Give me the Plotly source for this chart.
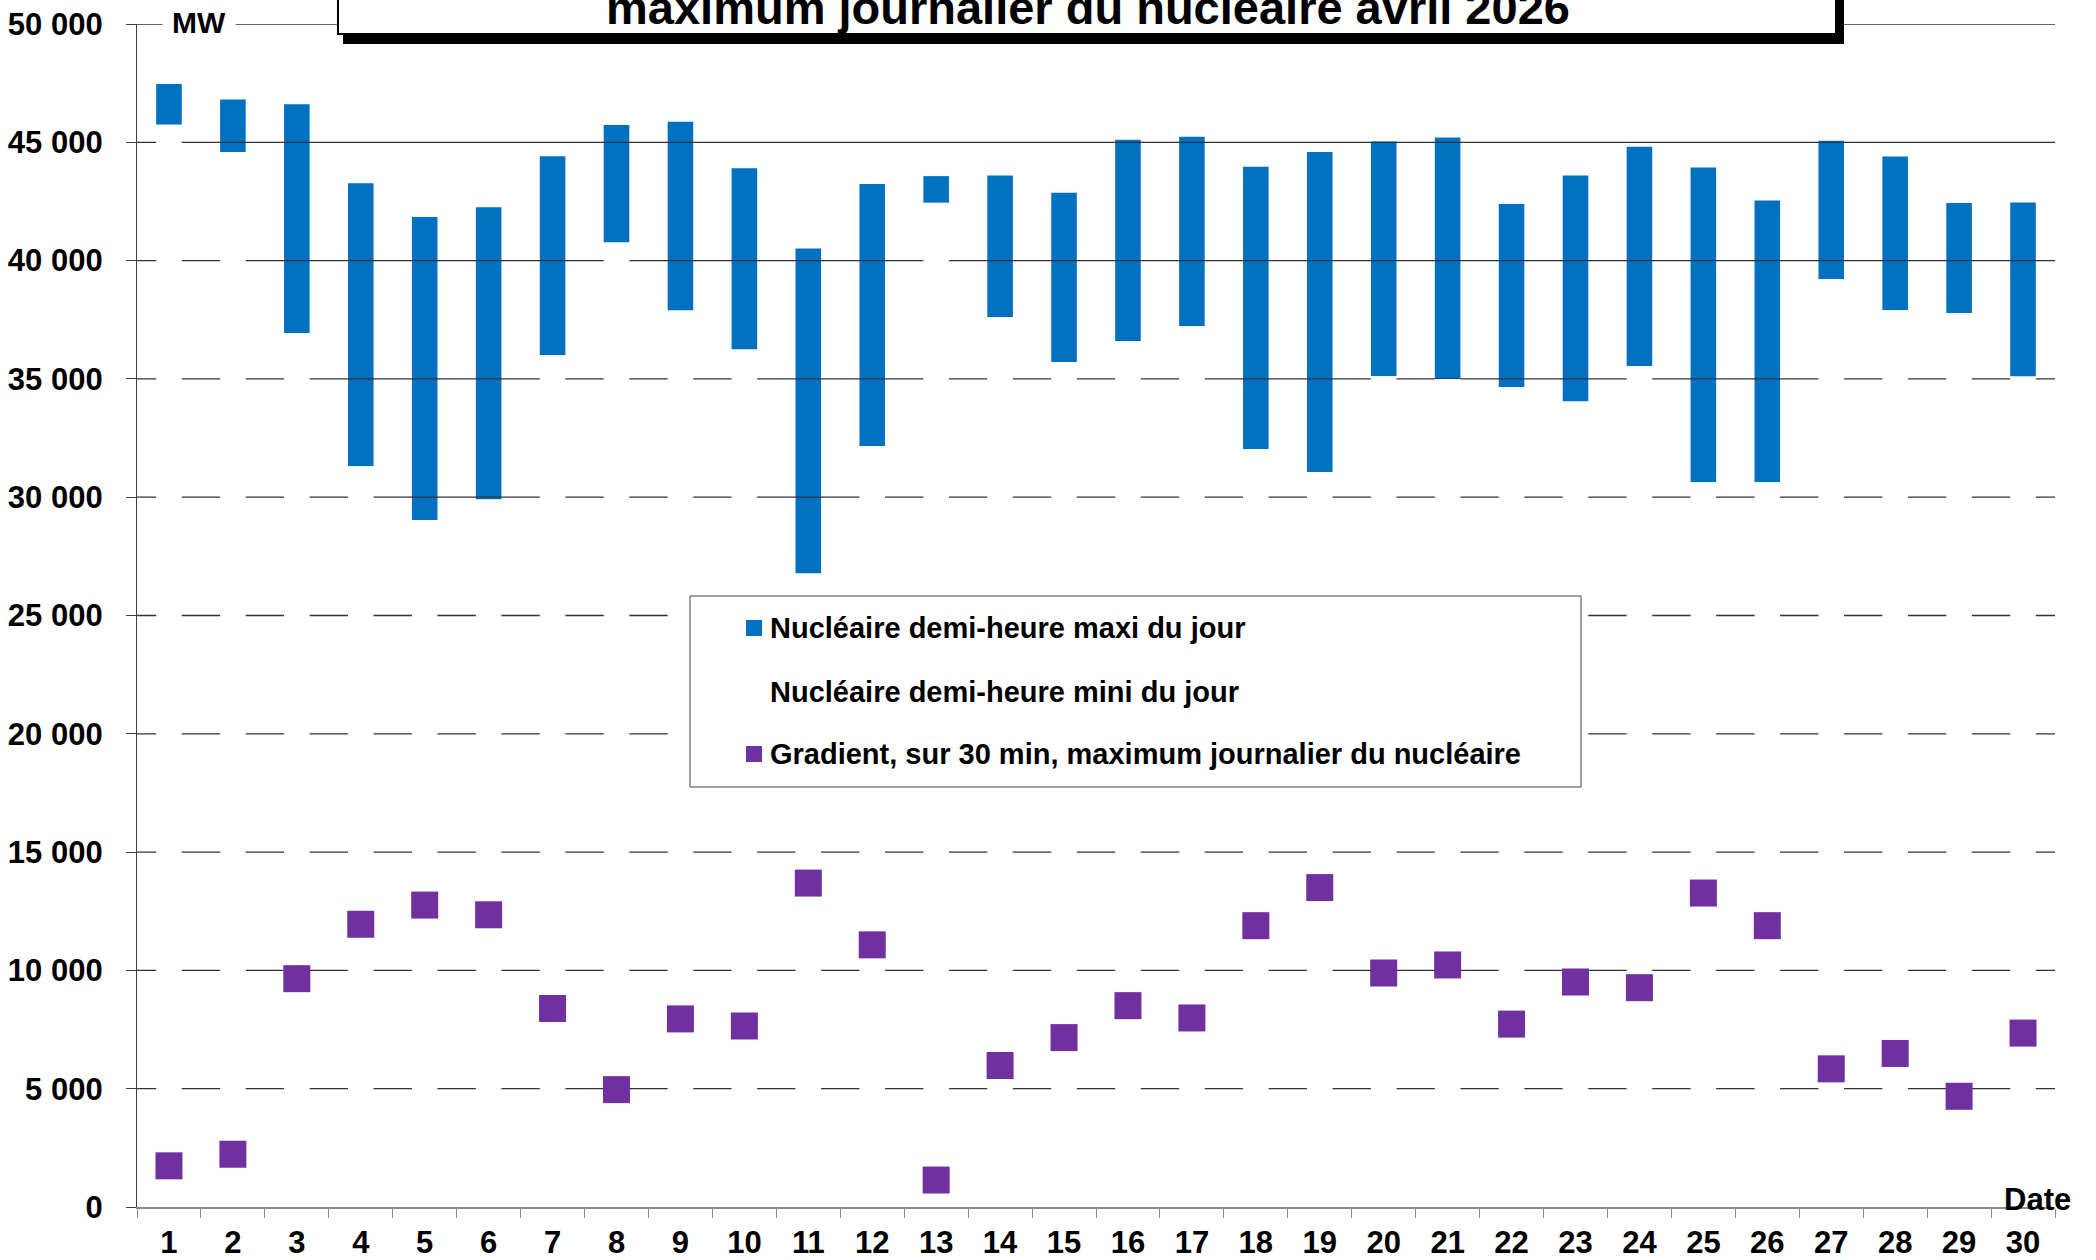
import plotly.graph_objects as go

# Daily nuclear output, April 2026 (MW)
days = list(range(1, 31))
day_labels = [str(d) for d in days]
nuc_max = [47460, 46810, 46610, 43270, 41840, 42260, 44410, 45730, 45870, 43900,
           40510, 43240, 43570, 43600, 42870, 45110, 45230, 43970, 44590, 45030,
           45200, 42390, 43600, 44810, 43930, 42540, 45070, 44400, 42430, 42460]
nuc_min = [45740, 44590, 36940, 31310, 29040, 29900, 36000, 40770, 37890, 36240,
           26770, 32160, 42440, 37610, 35710, 36590, 37230, 32040, 31070, 35110,
           35000, 34660, 34040, 35540, 30630, 30630, 39210, 37900, 37770, 35100]
gradient = [1740, 2230, 9650, 11950, 12760, 12350, 8390, 4960, 7950, 7650,
            13690, 11080, 1140, 5980, 7160, 8510, 7990, 11890, 13500, 9890,
            10230, 7730, 9510, 9270, 13270, 11890, 5840, 6490, 4680, 7350]
y_ticks = list(range(0, 50001, 5000))
grid_levels = y_ticks[1:]

name_max = "Nucléaire demi-heure maxi du jour"
name_min = "Nucléaire demi-heure mini du jour"
name_grad = "Gradient, sur 30 min, maximum journalier du nucléaire"
title_text = "maximum journalier du nucléaire avril 2026"

BLUE = "#0070C0"
PURPLE = "#7030A0"
FONT = "Liberation Sans, Arial, sans-serif"

W, H = 2096, 1260
L, R, T, B = 137, 41, 24, 53
PW, PH = W - L - R, H - T - B


def px(x):
    return (x - L) / PW


def py(y):
    return (H - B - y) / PH


fig = go.Figure()

# range bars (min -> max)
fig.add_trace(go.Bar(
    x=days, y=[mx - mn for mx, mn in zip(nuc_max, nuc_min)], base=nuc_min,
    width=0.4, marker=dict(color=BLUE, line=dict(width=0)),
    name=name_max, showlegend=False,
    customdata=nuc_max, hovertemplate="%{customdata}<extra></extra>",
))

# horizontal grid drawn over the range bars
gx, gy = [], []
for lv in grid_levels:
    gx += [0.5, 30.5, None]
    gy += [lv, lv, None]
fig.add_trace(go.Scatter(
    x=gx, y=gy, mode="lines", line=dict(color="#333333", width=1.3),
    hoverinfo="skip", showlegend=False,
))

# white base columns (0 -> min) on the overlay axes
fig.add_trace(go.Bar(
    x=days, y=nuc_min, width=0.4, xaxis="x2", yaxis="y2",
    marker=dict(color="white", line=dict(width=0)),
    name=name_min, showlegend=False,
))

# 30-min gradient markers
fig.add_trace(go.Scatter(
    x=days, y=gradient, mode="markers", xaxis="x2", yaxis="y2",
    marker=dict(symbol="square", size=27, color=PURPLE, line=dict(width=0)),
    name=name_grad, showlegend=False,
))

tick_font = dict(family=FONT, size=31, color="black", weight="bold")

fig.update_layout(
    width=W, height=H,
    margin=dict(l=L, r=R, t=T, b=B, pad=0, autoexpand=False),
    paper_bgcolor="white", plot_bgcolor="white",
    separators=", ",
    showlegend=False,
    barmode="overlay",
    xaxis=dict(
        range=[0.5, 30.5], tickvals=days, ticktext=day_labels, ticks="",
        showgrid=False, zeroline=False, showline=True, automargin=False,
        linecolor="#8c8c8c", linewidth=1.5,
        tickfont=tick_font, ticklabelstandoff=7,
        minor=dict(tickmode="array", tickvals=[d + 0.5 for d in [0] + days],
                   ticks="outside", ticklen=9, tickcolor="#8c8c8c",
                   tickwidth=1.2, showgrid=False),
    ),
    yaxis=dict(
        range=[0, 50000], tickvals=y_ticks, tickformat=",d",
        ticks="outside", ticklen=10, tickcolor="#404040", tickwidth=1.2,
        showgrid=False, zeroline=False, showline=True, automargin=False,
        linecolor="#404040", linewidth=1.2,
        tickfont=tick_font, ticklabelstandoff=17,
    ),
    xaxis2=dict(overlaying="x", matches="x", visible=False),
    yaxis2=dict(overlaying="y", matches="y", visible=False),
)

shapes = []
# title frame with drop shadow
shapes.append(dict(type="rect", xref="paper", yref="paper",
                   x0=px(343), x1=px(1844), y0=py(44), y1=py(-60),
                   fillcolor="black", line=dict(width=0)))
shapes.append(dict(type="rect", xref="paper", yref="paper",
                   x0=px(338), x1=px(1836), y0=py(34), y1=py(-70),
                   fillcolor="white", line=dict(color="black", width=2)))
# legend frame and swatches
shapes.append(dict(type="rect", xref="paper", yref="paper",
                   x0=px(690), x1=px(1581), y0=py(787), y1=py(596),
                   fillcolor="white", line=dict(color="#404040", width=1)))
shapes.append(dict(type="rect", xref="paper", yref="paper",
                   x0=px(746), x1=px(762), y0=py(636), y1=py(620),
                   fillcolor=BLUE, line=dict(width=0)))
shapes.append(dict(type="rect", xref="paper", yref="paper",
                   x0=px(746), x1=px(762), y0=py(762), y1=py(746),
                   fillcolor=PURPLE, line=dict(width=0)))
fig.update_layout(shapes=shapes)

leg_font = dict(family=FONT, size=29, color="black", weight="bold")
annotations = [
    dict(text=title_text, xref="paper", yref="paper", x=px(1088), y=py(8),
         xanchor="center", yanchor="middle", showarrow=False,
         font=dict(family=FONT, size=47, color="black", weight="bold")),
    dict(text="MW", xref="paper", yref="paper", x=px(199), y=py(23),
         xanchor="center", yanchor="middle", showarrow=False,
         bgcolor="white", borderpad=9,
         font=dict(family=FONT, size=30, color="black", weight="bold")),
    dict(text="Date", xref="paper", yref="paper", x=px(2073), y=py(1199),
         xanchor="right", yanchor="middle", showarrow=False,
         font=dict(family=FONT, size=31, color="black", weight="bold")),
    dict(text=name_max, xref="paper", yref="paper", x=px(768), y=py(628),
         xanchor="left", yanchor="middle", showarrow=False, font=leg_font),
    dict(text=name_min, xref="paper", yref="paper", x=px(768), y=py(692),
         xanchor="left", yanchor="middle", showarrow=False, font=leg_font),
    dict(text=name_grad, xref="paper", yref="paper", x=px(768), y=py(754),
         xanchor="left", yanchor="middle", showarrow=False, font=leg_font),
]
fig.update_layout(annotations=annotations)

fig.write_html("out.html")
